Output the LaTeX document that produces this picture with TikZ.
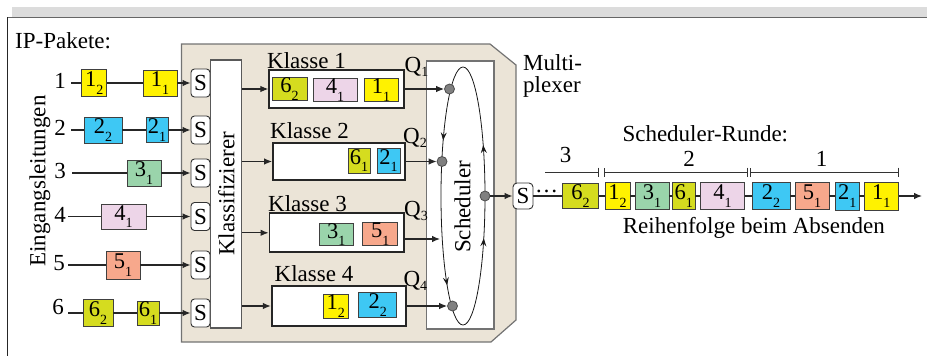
\documentclass[tikz,border=0pt]{standalone}
\usepackage{fontspec}
\setmainfont{Liberation Serif}
\usetikzlibrary{arrows.meta,decorations.markings}

\definecolor{pyellow}{HTML}{FFF200}
\definecolor{pblue}{HTML}{3EC8F4}
\definecolor{pgreen}{HTML}{9AD4AB}
\definecolor{ppink}{HTML}{EDD5E8}
\definecolor{psalmon}{HTML}{F7A88C}
\definecolor{polive}{HTML}{D5DC1F}
\definecolor{muxbeige}{HTML}{EBE4D7}
\definecolor{framegray}{HTML}{DCDCDC}

% packet label: number with lowered index
\newcommand\pks[2]{#1\raisebox{-7.5pt}{\fontsize{14}{14}\selectfont #2}}
% queue label Q with index
\newcommand\qlab[1]{Q\raisebox{-4pt}{\fontsize{14}{14}\selectfont #1}}

\begin{document}
\begin{tikzpicture}[x=1pt,y=-1pt,
  every node/.style={font=\fontsize{23}{27}\selectfont, inner sep=0pt},
  pkt/.style args={#1/#2/#3}{draw=black!75, line width=0.8pt, fill=#1,
    minimum width=#2pt, minimum height=#3pt, font=\fontsize{22.5}{24}\selectfont},
  wire/.style={draw=black!85, line width=1.1pt},
  arr/.style={wire, -{Latex[length=8pt,width=6.5pt]}},
  sbox/.style={draw=black!80, line width=0.9pt, fill=white, rounded corners=3.5pt,
    minimum width=19pt, minimum height=28pt},
  queue/.style={draw=black!85, line width=1.8pt, fill=white},
  sdot/.style={circle, draw=black!70, fill=black!50, line width=0.8pt, minimum size=10pt},
  brk/.style={draw=black!80, line width=0.9pt},
  ringtip/.style={decoration={markings,
      mark=at position 0.095 with {\arrow{Stealth[length=8pt,width=6pt,inset=3pt]}},
      mark=at position 0.396 with {\arrow{Stealth[length=8pt,width=6pt,inset=3pt]}},
      mark=at position 0.667 with {\arrow{Stealth[length=8pt,width=6pt,inset=3pt]}},
      mark=at position 0.921 with {\arrow{Stealth[length=8pt,width=6pt,inset=3pt]}}},
    postaction={decorate}}
]
\useasboundingbox (0,0) rectangle (927,356);

% page frame
\fill[framegray] (12,7) rectangle (927,17);
\draw[black!60, line width=1.6pt] (7.5,17.5) -- (927,17.5);
\draw[black!85, line width=1.1pt] (7.5,17) -- (7.5,356);

% multiplexer housing
\draw[fill=muxbeige, draw=black!55, line width=1.2pt]
  (181.5,44) -- (490,44) -- (516,65) -- (516,320) -- (491,342) -- (181.5,342) -- cycle;

% headings
\node[anchor=base west] (ipp) at (15,48.3) {IP-Pakete:};
\node[rotate=90] (eing) at (40,181) {Eingangsleitungen};
\node[anchor=base west] (mux1) at (523,70) {Multi-};
\node[anchor=base west] (mux2) at (523,92.7) {plexer};

% classifier
\node[draw=black!65, line width=1.1pt, fill=white, rotate=90,
  minimum width=268pt, minimum height=31pt] (klass) at (226.3,194) {Klassifizierer};

% input lines
\foreach \i/\y/\x in {1/83/71, 2/130/71, 3/173/72, 4/216.5/68, 5/265/68, 6/313/68}{
  \coordinate (in\i) at (\x,\y);
  \node[sbox] (s\i) at (200.5,\y) {S};
}
\node (n1) at (60,81) {1};
\node (n2) at (60,128) {2};
\node (n3) at (60,171) {3};
\node (n4) at (60,214.5) {4};
\node (n5) at (59,263) {5};
\node (n6) at (58,307) {6};

% packets waiting on the input lines
\node[pkt=pyellow/25/27] (a12) at (94.2,83) {\pks{1}{2}};
\node[pkt=pyellow/34/26] (a11) at (160,83) {\pks{1}{1}};
\node[pkt=pblue/38/26] (b22) at (103,130) {\pks{2}{2}};
\node[pkt=pblue/22/25] (b21) at (157,130) {\pks{2}{1}};
\node[pkt=pgreen/34/26] (c31) at (144,173) {\pks{3}{1}};
\node[pkt=ppink/45/25] (d41) at (123.5,216.5) {\pks{4}{1}};
\node[pkt=psalmon/34/28] (e51) at (123,265) {\pks{5}{1}};
\node[pkt=polive/30/27] (f62) at (98,313) {\pks{6}{2}};
\node[pkt=polive/22/24] (f61) at (148,313) {\pks{6}{1}};

\draw[wire] (in1) -- (a12); \draw[wire] (a12) -- (a11); \draw[arr] (a11) -- (s1);
\draw[wire] (in2) -- (b22); \draw[wire] (b22) -- (b21); \draw[arr] (b21) -- (s2);
\draw[wire] (in3) -- (c31); \draw[arr] (c31) -- (s3);
\draw[wire] (in4) -- (d41); \draw[arr] (d41) -- (s4);
\draw[wire] (in5) -- (e51); \draw[arr] (e51) -- (s5);
\draw[wire] (in6) -- (f62); \draw[wire] (f62) -- (f61); \draw[arr] (f61) -- (s6);

% class queues
\node[queue, minimum width=134.5pt, minimum height=38pt] (q1) at (336.5,89) {};
\node[queue, minimum width=132pt, minimum height=37pt] (q2) at (339,161.5) {};
\node[queue, minimum width=134.5pt, minimum height=39pt] (q3) at (336.7,232.8) {};
\node[queue, minimum width=134pt, minimum height=40pt] (q4) at (338.7,306) {};

\node[anchor=base west] (k1) at (267,68) {Klasse 1};
\node[anchor=base west] (k2) at (270,138.3) {Klasse 2};
\node[anchor=base west] (k3) at (268,211) {Klasse 3};
\node[anchor=base west] (k4) at (274.5,281.7) {Klasse 4};

\node[pkt=polive/35/22] (q1a) at (289.5,89) {\pks{6}{2}};
\node[pkt=ppink/44/23] (q1b) at (335,90) {\pks{4}{1}};
\node[pkt=pyellow/34/22] (q1c) at (381,90) {\pks{1}{1}};
\node[pkt=polive/22/25] (q2a) at (359,160.5) {\pks{6}{1}};
\node[pkt=pblue/23/25] (q2b) at (388.5,160.5) {\pks{2}{1}};
\node[pkt=pgreen/34/22.4] (q3a) at (336.3,234.5) {\pks{3}{1}};
\node[pkt=psalmon/35/23] (q3b) at (380.2,234.2) {\pks{5}{1}};
\node[pkt=pyellow/25/24] (q4a) at (335.8,306.3) {\pks{1}{2}};
\node[pkt=pblue/38/25] (q4b) at (377.7,304.8) {\pks{2}{2}};

\foreach \k in {1,2,3,4}{
  \draw[arr] (klass.south |- q\k) -- (q\k);
}

% scheduler
\node[draw=black!55, line width=1.3pt, fill=white,
  minimum width=67.3pt, minimum height=268pt] (sched) at (460.35,195) {};
\draw[black!90, line width=0.8pt, ringtip]
  (485,196) arc[start angle=0, end angle=-360, x radius=22, y radius=129];
\node[rotate=90] (schedtxt) at (462.5,207) {Scheduler};

\node[sdot] (d1) at (449.5,89) {};
\node[sdot] (d2) at (442,161.5) {};
\node[sdot] (d4) at (452.5,306) {};
\node[sdot] (dout) at (485,196) {};
\coordinate (q3end) at (440,239);

\draw[arr] (q1) -- (d1);
\draw[arr] (q2) -- (d2);
\draw[arr] (q3.east |- q3end) -- (q3end);
\draw[arr] (q4) -- (d4);

\node[anchor=base west] (ql1) at (404.5,72.5) {\qlab{1}};
\node[anchor=base west] (ql2) at (403,143.3) {\qlab{2}};
\node[anchor=base west] (ql3) at (404,216.7) {\qlab{3}};
\node[anchor=base west] (ql4) at (403.3,286.7) {\qlab{4}};

% output link
\node[sbox, minimum width=20pt, minimum height=26pt, rounded corners=4pt] (sout) at (523,196) {S};
\draw[arr] (dout) -- (sout);
\node (odots) at (546.5,191) {…};

\node[pkt=polive/35.6/25] (o62) at (580.5,196) {\pks{6}{2}};
\node[pkt=pyellow/25/27] (o12) at (617.5,196) {\pks{1}{2}};
\node[pkt=pgreen/34/27.5] (o31) at (652,196) {\pks{3}{1}};
\node[pkt=polive/22.3/27] (o61) at (683.8,196) {\pks{6}{1}};
\node[pkt=ppink/43.6/27] (o41) at (722.5,196) {\pks{4}{1}};
\node[pkt=pblue/38/27] (o22) at (771,196) {\pks{2}{2}};
\node[pkt=psalmon/34/27] (o51) at (812,196) {\pks{5}{1}};
\node[pkt=pblue/23.3/28] (o21) at (847.3,196) {\pks{2}{1}};
\node[pkt=pyellow/34/28] (o11) at (881.3,196) {\pks{1}{1}};
\coordinate (outend) at (922,196);

\draw[wire] (sout) -- (o62);
\draw[wire] (o62) -- (o12);
\draw[wire] (o12) -- (o31);
\draw[wire] (o31) -- (o61);
\draw[wire] (o61) -- (o41);
\draw[wire] (o41) -- (o22);
\draw[wire] (o22) -- (o51);
\draw[wire] (o51) -- (o21);
\draw[wire] (o21) -- (o11);
\draw[arr] (o11) -- (outend);

% scheduler rounds
\node[anchor=base] (runde) at (705.3,141.5) {Scheduler-Runde:};
\draw[brk, -{Bar[width=9pt]}] (545,172) -- (599,172);
\draw[brk, {Bar[width=9pt]}-{Bar[width=9pt]}] (604,172) -- (747.7,172);
\draw[brk, {Bar[width=9pt]}-{Bar[width=9pt]}] (750,172) -- (899,172);
\node[anchor=base] (r3) at (565.7,162.7) {3};
\node[anchor=base] (r2) at (689,166) {2};
\node[anchor=base] (r1) at (821.7,166.7) {1};
\node[anchor=base] (order) at (753.8,233.3) {Reihenfolge beim Absenden};

\end{tikzpicture}
\end{document}
